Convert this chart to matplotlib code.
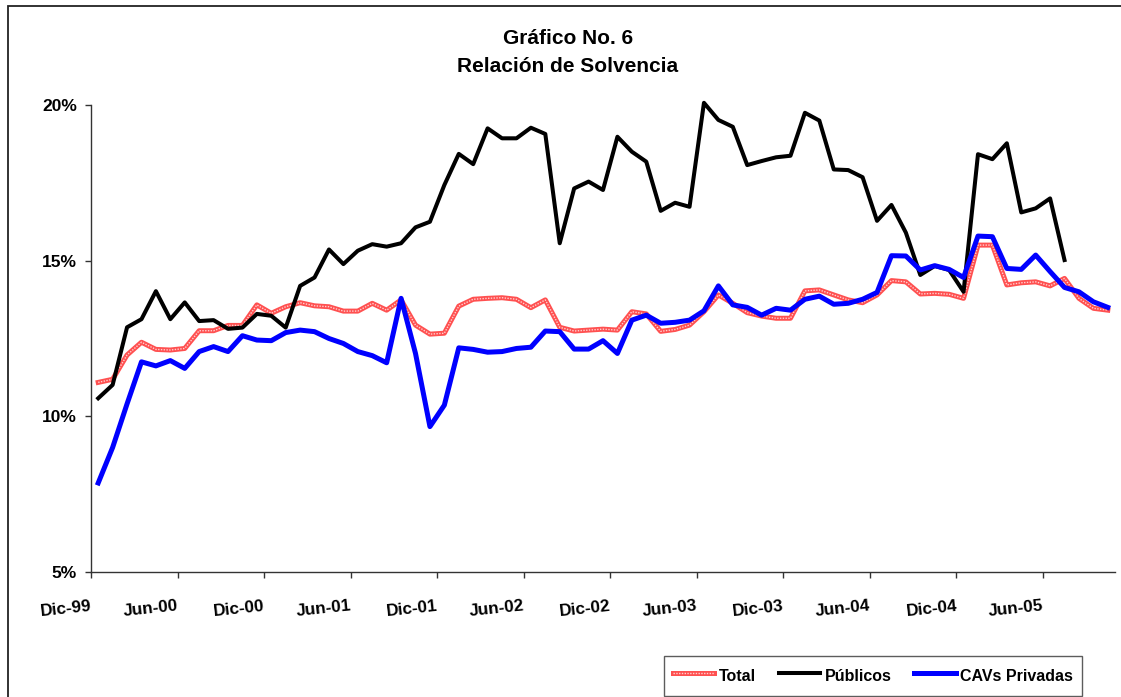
import matplotlib
matplotlib.use("Agg")
import matplotlib.pyplot as plt
import numpy as np
from matplotlib.patches import Rectangle
from matplotlib.legend_handler import HandlerTuple

# ---- data (percent), monthly from Dic-99 ----
total = [11.09, 11.19, 11.97, 12.38, 12.15, 12.13, 12.18, 12.75, 12.75, 12.92,
         12.92, 13.58, 13.31, 13.52, 13.65, 13.55, 13.52, 13.38, 13.38, 13.63,
         13.41, 13.74, 12.93, 12.64, 12.67, 13.54, 13.76, 13.79, 13.81, 13.76,
         13.49, 13.74, 12.86, 12.74, 12.77, 12.80, 12.77, 13.36, 13.29, 12.73,
         12.79, 12.93, 13.36, 13.90, 13.63, 13.33, 13.22, 13.15, 13.15, 14.03,
         14.06, 13.90, 13.74, 13.65, 13.90, 14.36, 14.32, 13.93, 13.95, 13.92,
         13.79, 15.50, 15.50, 14.22, 14.29, 14.32, 14.19, 14.43, 13.79, 13.47,
         13.41]
publicos = [10.58, 11.01, 12.86, 13.12, 14.02, 13.12, 13.66, 13.06, 13.09, 12.81,
            12.85, 13.29, 13.23, 12.85, 14.19, 14.46, 15.36, 14.89, 15.32, 15.53,
            15.45, 15.56, 16.07, 16.25, 17.43, 18.43, 18.10, 19.25, 18.93, 18.93,
            19.27, 19.07, 15.56, 17.32, 17.54, 17.27, 18.98, 18.50, 18.18, 16.60,
            16.86, 16.73, 20.07, 19.52, 19.30, 18.07, 18.20, 18.32, 18.37, 19.75,
            19.50, 17.93, 17.91, 17.68, 16.28, 16.79, 15.90, 14.54, 14.83, 14.70,
            14.00, 18.42, 18.26, 18.77, 16.55, 16.68, 17.00, 15.02]
cavs = [7.86, 9.00, 10.40, 11.75, 11.62, 11.79, 11.54, 12.08, 12.24, 12.08,
        12.59, 12.45, 12.43, 12.69, 12.77, 12.72, 12.50, 12.34, 12.08, 11.95,
        11.72, 13.79, 12.02, 9.67, 10.36, 12.20, 12.15, 12.06, 12.08, 12.18,
        12.22, 12.74, 12.72, 12.16, 12.16, 12.43, 12.02, 13.09, 13.25, 12.99,
        13.02, 13.09, 13.39, 14.19, 13.58, 13.50, 13.25, 13.47, 13.41, 13.76,
        13.86, 13.60, 13.63, 13.76, 13.98, 15.16, 15.15, 14.70, 14.84, 14.72,
        14.46, 15.79, 15.77, 14.75, 14.72, 15.18, 14.65, 14.14, 14.00, 13.68,
        13.50]
tick_labels = ["Dic-99", "Jun-00", "Dic-00", "Jun-01", "Dic-01", "Jun-02",
               "Dic-02", "Jun-03", "Dic-03", "Jun-04", "Dic-04", "Jun-05"]
y_ticks = [5, 10, 15, 20]
series_names = ["Total", "Públicos", "CAVs Privadas"]

plt.rcParams['font.family'] = ['Liberation Sans', 'DejaVu Sans']
plt.rcParams['font.weight'] = 'bold'

W, H = 1121, 697
fig = plt.figure(figsize=(W / 100, H / 100), dpi=100)
ax = fig.add_axes([91 / W, 1 - 572 / H, (1115 - 91) / W, (572 - 105) / H])

x_all = np.arange(len(total))
x_pub = np.arange(len(publicos))

l_tot = ax.plot(x_all, total, color='#ff5050', lw=3.6, zorder=2, clip_on=False)[0]
l_dot = ax.plot(x_all, total, color='#ffd0d0', lw=1.0, ls=(0, (1, 1)), zorder=2.1,
                clip_on=False)[0]
l_pub = ax.plot(x_pub, publicos, color='black', lw=2.9, zorder=3, clip_on=False)[0]
l_cav = ax.plot(x_all, cavs, color='#0000ff', lw=3.6, zorder=4, clip_on=False)[0]

ax.set_xlim(-0.5, len(total) - 0.5)
ax.set_ylim(5, 20)
ax.set_yticks(y_ticks)
ax.set_yticklabels([f"{v}%" for v in y_ticks])
ax.set_xticks(np.arange(-0.5, -0.5 + 6 * len(tick_labels), 6))
ax.set_xticklabels(tick_labels, rotation=6, ha='right', rotation_mode='anchor')

for s in ['top', 'right']:
    ax.spines[s].set_visible(False)
for s in ['left', 'bottom']:
    ax.spines[s].set_color('#333333')
    ax.spines[s].set_linewidth(1.0)
ax.tick_params(axis='y', direction='out', length=4, width=1, color='#333333',
               pad=6, labelsize=12.5)
ax.tick_params(axis='x', direction='out', length=4, width=1, color='#333333',
               pad=15, labelsize=12.3)

fig.text(568 / W, 1 - 38 / H, "Gráfico No. 6", ha='center', va='center',
         fontsize=15, fontweight='bold')
fig.text(568 / W, 1 - 66 / H, "Relación de Solvencia", ha='center', va='center',
         fontsize=15, fontweight='bold')

leg = fig.legend([(l_tot, l_dot), l_pub, l_cav], series_names, ncol=3,
                 loc='upper left', bbox_to_anchor=(664 / W, 1 - 656 / H),
                 bbox_transform=fig.transFigure, borderaxespad=0,
                 handler_map={tuple: HandlerTuple(ndivide=1, pad=0)},
                 fontsize=11.5, frameon=True, fancybox=False, shadow=False,
                 handlelength=2.6, handletextpad=0.3, columnspacing=1.4,
                 borderpad=0.55, handleheight=1.8)
leg.get_frame().set_edgecolor('#333333')
leg.get_frame().set_linewidth(1.0)
for t in leg.get_texts():
    t.set_fontweight('bold')

fig.add_artist(Rectangle((8 / W, -0.2), 1.5, 1.2 - 6 / H, transform=fig.transFigure,
                         fill=False, edgecolor='#222222', lw=1.3))

fig.savefig("out.png", dpi=100)
